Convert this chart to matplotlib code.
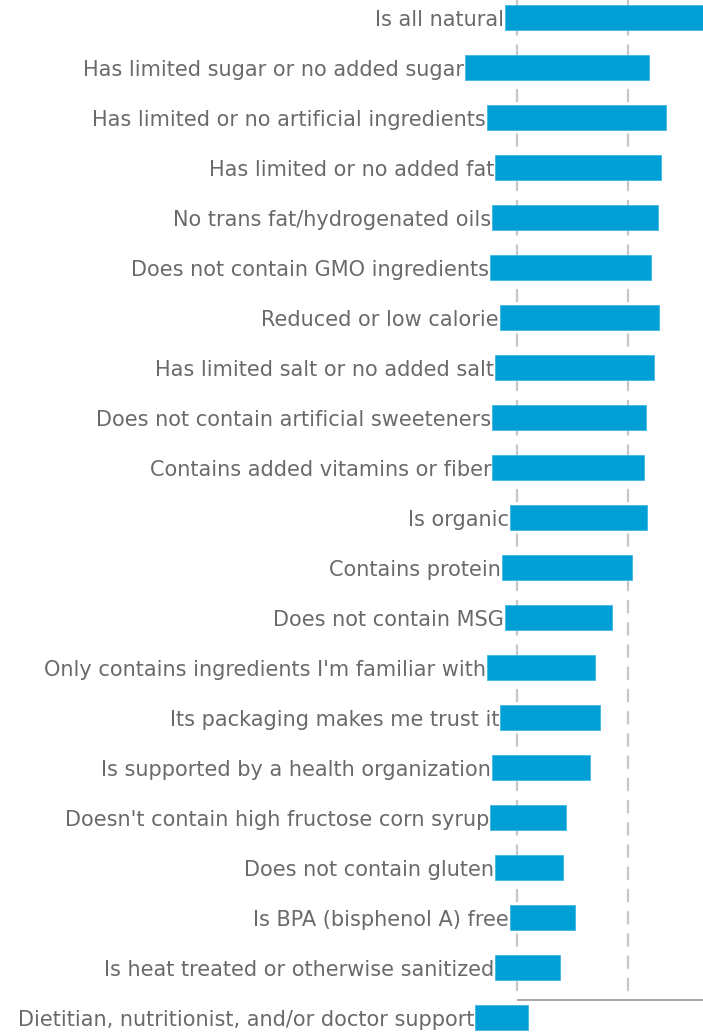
import numpy as np
import matplotlib
matplotlib.use("Agg")
import matplotlib.pyplot as plt

categories = [
    "Is all natural",
    "Has limited sugar or no added sugar",
    "Has limited or no artificial ingredients",
    "Has limited or no added fat",
    "No trans fat/hydrogenated oils",
    "Does not contain GMO ingredients",
    "Reduced or low calorie",
    "Has limited salt or no added salt",
    "Does not contain artificial sweeteners",
    "Contains added vitamins or fiber",
    "Is organic",
    "Contains protein",
    "Does not contain MSG",
    "Only contains ingredients I'm familiar with",
    "Its packaging makes me trust it",
    "Is supported by a health organization",
    "Doesn't contain high fructose corn syrup",
    "Does not contain gluten",
    "Is BPA (bisphenol A) free",
    "Is heat treated or otherwise sanitized",
    "Dietitian, nutritionist, and/or doctor support",
]
# bar lengths (percent-ish units, 20 units between the two gridlines)
values = [38.7, 33.2, 32.3, 29.9, 29.9, 29.0, 28.6, 28.6, 27.7, 27.4, 24.7,
          23.4, 19.3, 19.5, 18.0, 17.7, 13.7, 12.3, 11.7, 11.7, 9.5]
# where each bar starts (the bars float, shifted by their label width)
offsets = [-2.2, -9.4, -5.4, -4.0, -4.5, -4.9, -3.1, -4.0, -4.5, -4.5, -1.3,
           -2.7, -2.2, -5.4, -3.1, -4.5, -4.9, -4.0, -1.3, -4.0, -7.6]
gridlines = [0, 20]

bar_color = "#00a0d6"
text_color = "#6a6a6a"

fig = plt.figure(figsize=(7.03, 10.32), dpi=100)
ax = fig.add_axes([0, 0, 1, 1])
ax.set_xlim(-93.15, 33.5)
ax.set_ylim(20.28, -0.34)
ax.axis("off")

y = np.arange(len(categories))
base_y = 19.64

for g in gridlines:
    ax.vlines(g, -0.34, base_y, colors="#c8c8c8", linestyles=(0, (6, 4)),
              linewidth=1.6, zorder=1)
ax.hlines(base_y, 0, 33.5, colors="#9a9a9a", linewidth=1.2, zorder=1)

ax.barh(y, values, left=offsets, height=0.5, color=bar_color,
        edgecolor="#3fb8e6", linewidth=0.6, zorder=2)

for yi, lab, off in zip(y, categories, offsets):
    ax.text(off - 0.15, yi + 0.05, lab, ha="right", va="center",
            fontsize=15, color=text_color, family="DejaVu Sans", zorder=3)

fig.savefig("out.png", dpi=100)
